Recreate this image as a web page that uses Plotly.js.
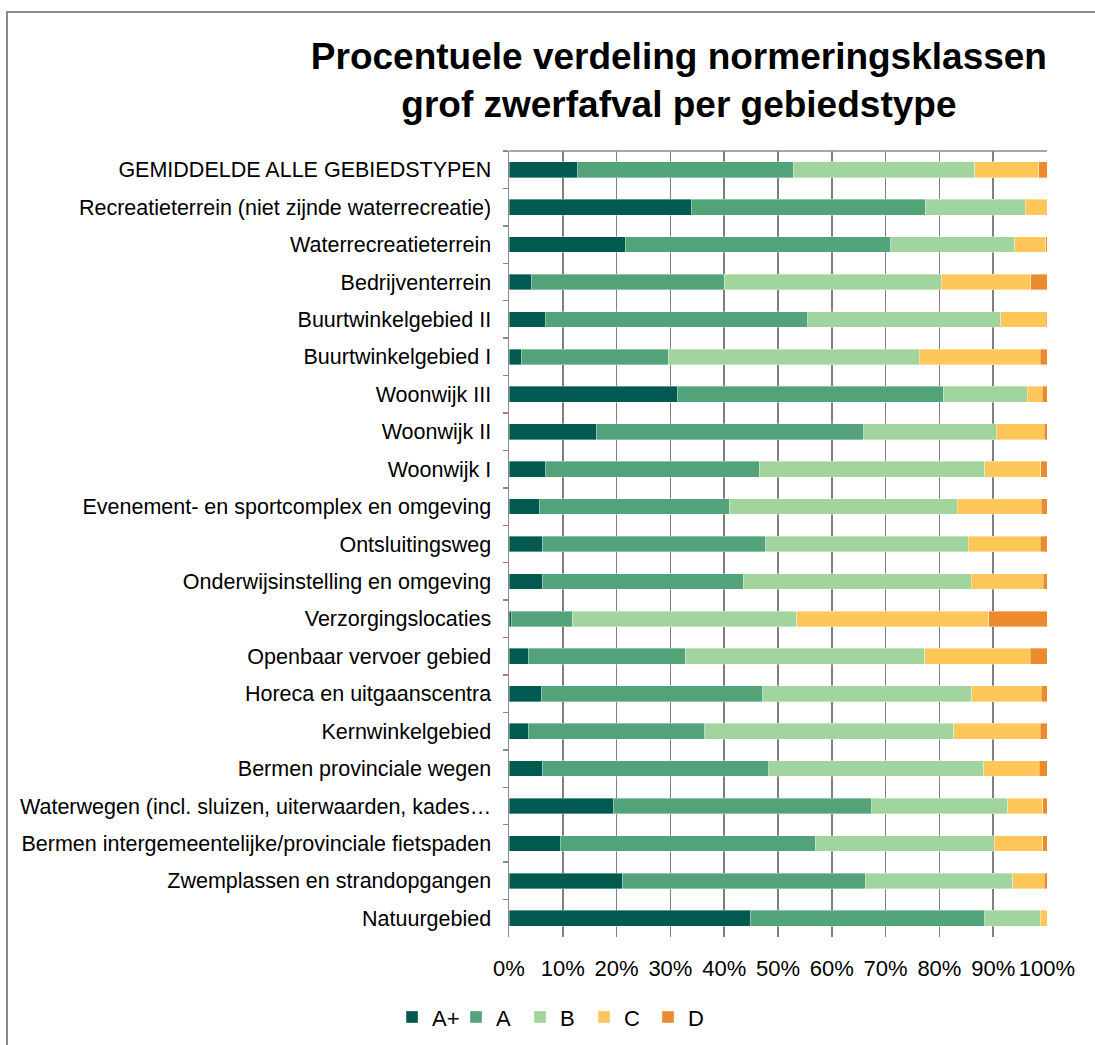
<!DOCTYPE html>
<html>
<head>
<meta charset="utf-8">
<script src="https://cdn.plot.ly/plotly-3.0.1.min.js"></script>
<style>
  html, body { margin: 0; padding: 0; background: #fff; overflow: hidden; }
  #wrap { position: relative; width: 1095px; height: 1045px; }
  #frame { position: absolute; left: 6px; top: 11px; width: 1200px; height: 1200px; border: 2px solid #8a8a8a; box-sizing: border-box; pointer-events: none; z-index: 5; }
  #chart { position: absolute; left: 0; top: 0; width: 1095px; height: 1045px; }
</style>
</head>
<body>
<div id="wrap">
  <div id="chart"></div>
  <div id="frame"></div>
</div>
<script>
const categories = [
  "GEMIDDELDE ALLE GEBIEDSTYPEN",
  "Recreatieterrein (niet zijnde waterrecreatie)",
  "Waterrecreatieterrein",
  "Bedrijventerrein",
  "Buurtwinkelgebied II",
  "Buurtwinkelgebied I",
  "Woonwijk III",
  "Woonwijk II",
  "Woonwijk I",
  "Evenement- en sportcomplex en omgeving",
  "Ontsluitingsweg",
  "Onderwijsinstelling en omgeving",
  "Verzorgingslocaties",
  "Openbaar vervoer gebied",
  "Horeca en uitgaanscentra",
  "Kernwinkelgebied",
  "Bermen provinciale wegen",
  "Waterwegen (incl. sluizen, uiterwaarden, kades…",
  "Bermen intergemeentelijke/provinciale fietspaden",
  "Zwemplassen en strandopgangen",
  "Natuurgebied"
];
const seriesNames = ["A+", "A", "B", "C", "D"];
const valuesAplus = [12.8, 34.0, 21.6, 4.2, 6.8, 2.3, 31.4, 16.3, 6.8, 5.6, 6.2, 6.3, 0.4, 3.7, 6.0, 3.7, 6.3, 19.5, 9.6, 21.1, 44.9];
const valuesA     = [40.0, 43.4, 49.4, 35.8, 48.7, 27.3, 49.3, 49.6, 39.7, 35.3, 41.5, 37.2, 11.4, 29.1, 41.2, 32.7, 42.0, 47.9, 47.3, 45.1, 43.5];
const valuesB     = [33.8, 18.6, 23.0, 40.3, 35.9, 46.7, 15.6, 24.7, 41.9, 42.4, 37.7, 42.4, 41.7, 44.5, 38.8, 46.3, 39.9, 25.3, 33.3, 27.4, 10.3];
const valuesC     = [11.9, 4.0, 5.8, 16.7, 8.5, 22.4, 2.8, 8.9, 10.4, 15.6, 13.3, 13.4, 35.7, 19.6, 12.9, 16.0, 10.4, 6.5, 9.0, 5.9, 1.3];
const valuesD     = [1.5, 0.0, 0.2, 3.0, 0.1, 1.3, 0.9, 0.5, 1.2, 1.1, 1.3, 0.7, 10.8, 3.1, 1.1, 1.3, 1.4, 0.8, 0.8, 0.5, 0.0];
const xTickValues = [0, 10, 20, 30, 40, 50, 60, 70, 80, 90, 100];
const xTickLabels = ["0%", "10%", "20%", "30%", "40%", "50%", "60%", "70%", "80%", "90%", "100%"];

const colors = ["#005a4f", "#52a37a", "#a2d49e", "#ffc65a", "#eb8b2d"];
const allValues = [valuesAplus, valuesA, valuesB, valuesC, valuesD];

const traces = allValues.map((vals, i) => ({
  type: "bar",
  orientation: "h",
  name: seriesNames[i],
  y: categories,
  x: vals,
  marker: { color: colors[i], line: { color: "rgba(255,255,255,0.6)", width: 0.6 } },
  hoverinfo: "y+x+name"
}));

const layout = {
  width: 1095,
  height: 1045,
  paper_bgcolor: "#ffffff",
  plot_bgcolor: "#ffffff",
  barmode: "stack",
  bargap: 0.58,
  margin: { l: 509, r: 48, t: 151, b: 108, pad: 0, autoexpand: false },
  font: { family: "Liberation Sans, Arial, sans-serif", color: "#000" },
  title: {
    text: "<b>Procentuele verdeling normeringsklassen<br>grof zwerfafval per gebiedstype</b>",
    font: { family: "Liberation Sans, Arial, sans-serif", size: 37, color: "#000" },
    x: 0.62, xanchor: "center", xref: "container",
    y: 0.934, yanchor: "middle", yref: "container"
  },
  xaxis: {
    range: [0, 100],
    tickmode: "array",
    tickvals: xTickValues,
    ticktext: xTickLabels,
    showgrid: true,
    gridcolor: "#7f7f7f",
    gridwidth: 1.5,
    zeroline: false,
    showline: false,
    ticks: "",
    ticklabelstandoff: 16,
    tickfont: { size: 22, color: "#000" },
    automargin: false,
    fixedrange: true
  },
  yaxis: {
    autorange: "reversed",
    type: "category",
    showline: true,
    linecolor: "#8a8a8a",
    linewidth: 1.5,
    ticks: "outside",
    tickson: "boundaries",
    ticklen: 5,
    tickcolor: "#8a8a8a",
    tickwidth: 1.5,
    showgrid: false,
    ticklabelstandoff: 12,
    tickfont: { size: 21.5, color: "#000" },
    automargin: false,
    fixedrange: true
  },
  shapes: [{
    type: "line", xref: "paper", yref: "paper",
    x0: 0, x1: 1, y0: 1, y1: 1,
    line: { color: "#8a8a8a", width: 1.5 }
  }],
  legend: {
    orientation: "h",
    x: 0.08, xanchor: "center",
    y: -0.102, yanchor: "middle",
    font: { size: 22, color: "#000" },
    itemwidth: 30,
    entrywidth: 19,
    entrywidthmode: "pixels",
    traceorder: "normal",
    tracegroupgap: 0
  },
  showlegend: true
};

Plotly.newPlot("chart", traces, layout, { displayModeBar: false, staticPlot: true });
</script>
</body>
</html>
